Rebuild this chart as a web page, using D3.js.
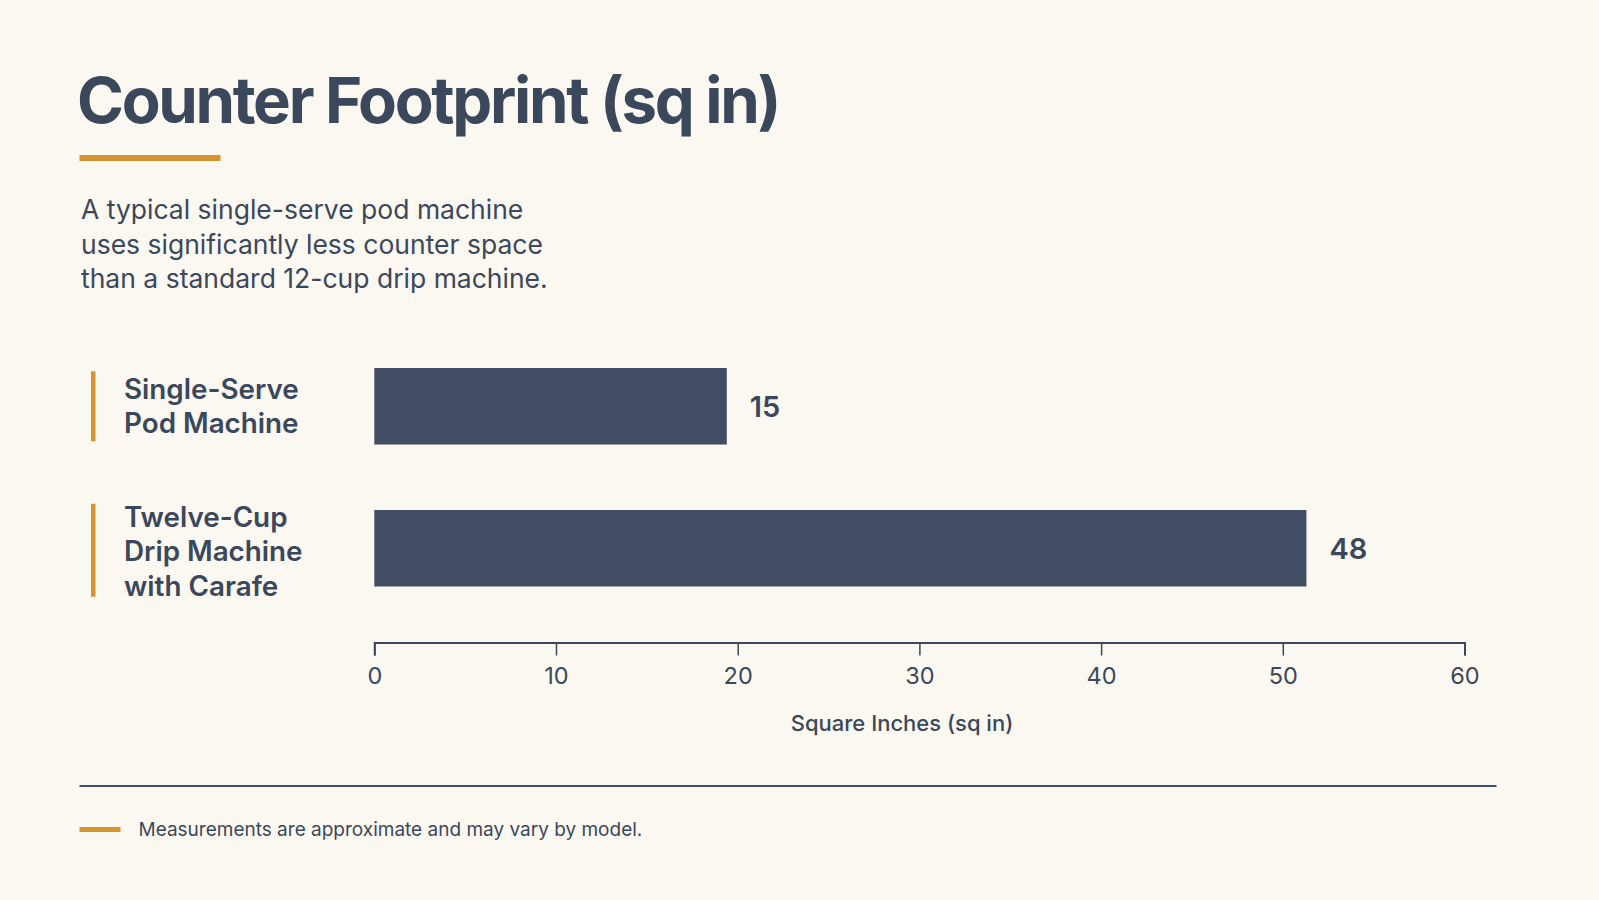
<!DOCTYPE html>
<html>
<head>
<meta charset="utf-8">
<script src="https://cdn.jsdelivr.net/npm/d3@7"></script>
<style>
  html, body { margin: 0; padding: 0; background: #FBF8F1; }
  svg { display: block; }
</style>
</head>
<body>
<svg id="chart" width="1599" height="900"></svg>
<script>
// ---- data ----
const title = "Counter Footprint (sq in)";
const subtitleLines = [
  "A typical single-serve pod machine",
  "uses significantly less counter space",
  "than a standard 12-cup drip machine."
];
const categories = [
  ["Single-Serve", "Pod Machine"],
  ["Twelve-Cup", "Drip Machine", "with Carafe"]
];
const valueLabels = [15, 48];          // printed values
const barExtents = [19.4, 51.3];       // bar ends
const tickValues = [0, 10, 20, 30, 40, 50, 60];
const axisTitle = "Square Inches (sq in)";
const footnote = "Measurements are approximate and may vary by model.";

// ---- styles ----
const bg = "#FBF8F1", ink = "#3B475A", barColor = "#414E63", accent = "#D69332";
const font = "Inter, 'Noto Sans', sans-serif";

const svg = d3.select("#chart");
svg.append("rect").attr("width", 1599).attr("height", 900).attr("fill", bg);

// title
svg.append("text").attr("x", 77).attr("y", 123)
  .attr("font-family", font).attr("font-weight", 700).attr("font-size", 63.5)
  .attr("letter-spacing", "-2.3").attr("fill", ink).text(title);
svg.append("rect").attr("x", 79.5).attr("y", 155).attr("width", 141).attr("height", 6).attr("fill", accent);

// subtitle
svg.append("g").selectAll("text").data(subtitleLines).join("text")
  .attr("x", 81).attr("y", (d, i) => 219 + i * 34.7)
  .attr("font-family", font).attr("font-weight", 400).attr("font-size", 26.5)
  .attr("fill", ink).text(d => d);

// scales
const x = d3.scaleLinear().domain([0, 60]).range([374.3, 1464.5]);
const y = d3.scaleBand().domain(d3.range(categories.length)).range([368, 586.5])
  .paddingInner(0.461).paddingOuter(0);

// bars
svg.append("g").selectAll("rect").data(barExtents).join("rect")
  .attr("x", x(0)).attr("y", (d, i) => y(i))
  .attr("width", d => x(d) - x(0)).attr("height", y.bandwidth())
  .attr("fill", barColor);

// value labels
svg.append("g").selectAll("text").data(valueLabels).join("text")
  .attr("x", (d, i) => x(barExtents[i]) + 23)
  .attr("y", (d, i) => y(i) + y.bandwidth() / 2 + 10.5)
  .attr("font-family", font).attr("font-weight", 600).attr("font-size", 29)
  .attr("fill", ink).text(d => d);

// category labels with accent markers
const lineH = 34.4;
categories.forEach((lines, i) => {
  const cy = y(i) + y.bandwidth() / 2;
  const n = lines.length;
  const h = 24 + n * 23;
  svg.append("rect").attr("x", 91).attr("width", 4.5)
    .attr("y", cy - h / 2 + (n - 2) * 2).attr("height", h)
    .attr("fill", accent);
  svg.append("g").selectAll("text").data(lines).join("text")
    .attr("x", 124)
    .attr("y", (d, j) => cy + (j - (n - 1) / 2) * lineH + 10 + (n - 2) * 3)
    .attr("font-family", font).attr("font-weight", 600).attr("font-size", 27.8)
    .attr("fill", ink).text(d => d);
});

// axis
const axis = svg.append("g").attr("transform", "translate(0,642.5)")
  .call(d3.axisBottom(x).tickValues(tickValues).tickSize(13).tickPadding(12).tickSizeOuter(13));
axis.select(".domain").attr("stroke", ink).attr("stroke-width", 2);
axis.selectAll(".tick line").attr("stroke", ink).attr("stroke-width", 1.5);
axis.selectAll(".tick text").attr("font-family", font).attr("font-size", 23.5)
  .attr("fill", ink).attr("font-weight", 400);

svg.append("text").attr("x", 902).attr("y", 731).attr("text-anchor", "middle")
  .attr("font-family", font).attr("font-weight", 500).attr("font-size", 22)
  .attr("fill", ink).text(axisTitle);

// footer
svg.append("rect").attr("x", 79.5).attr("y", 785).attr("width", 1417).attr("height", 2).attr("fill", "#414E66");
svg.append("rect").attr("x", 79.5).attr("y", 827).attr("width", 41).attr("height", 5).attr("fill", accent);
svg.append("text").attr("x", 138.5).attr("y", 836)
  .attr("font-family", font).attr("font-weight", 400).attr("font-size", 19)
  .attr("fill", ink).text(footnote);
</script>
</body>
</html>
